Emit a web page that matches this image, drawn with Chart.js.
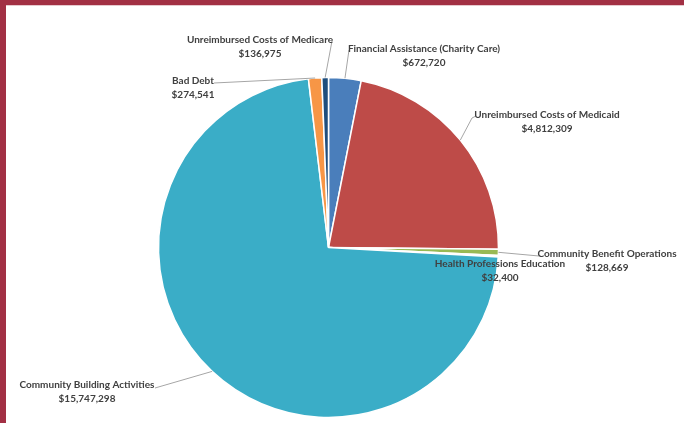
<!DOCTYPE html>
<html>
<head>
<meta charset="utf-8">
<script src="https://cdn.jsdelivr.net/npm/chart.js@4/dist/chart.umd.min.js"></script>
<style>
    body { margin:0; background:#ffffff; }
    canvas { display:block; }
</style>
</head>
<body>
<canvas id="canvasGraph" width="684" height="423"></canvas>
<script>
// Les données du graphique
var categories = [
    "Financial Assistance (Charity Care)",
    "Unreimbursed Costs of Medicaid",
    "Community Benefit Operations",
    "Health Professions Education",
    "Community Building Activities",
    "Bad Debt",
    "Unreimbursed Costs of Medicare"
];
var montants = [672720, 4812309, 128669, 32400, 15747298, 274541, 136975];
var couleurs = ['#4a7ebb', '#be4b48', '#98b954', '#7d60a0', '#3aadc7', '#f79646', '#1f4e7d'];

// Position des étiquettes (centre de la 1re ligne) et bout du trait de rappel
var posEtiquettes = [
    { x: 424, y: 49, trait: [[349, 50]] },
    { x: 547, y: 115, trait: [[472, 118], [476, 116]] },
    { x: 607, y: 254, trait: [[539, 256]] },
    { x: 500, y: 264, trait: null },
    { x: 87, y: 385, trait: [[155, 388]] },
    { x: 193, y: 81, trait: [[214, 83]] },
    { x: 260, y: 40, trait: [[332, 41]] }
];

function FormatDollar(v)
{
    return "$" + v.toLocaleString("en-US");
}

var pluginCadre = {
    id: 'cadre',
    afterDraw: function(chart)
    {
        var ctx = chart.ctx;
        var meta = chart.getDatasetMeta(0);
        ctx.save();

        // traits de rappel
        ctx.strokeStyle = '#a6a6a6';
        ctx.lineWidth = 1;
        for (var i = 0; i < meta.data.length; i++)
        {
            var p = posEtiquettes[i];
            if (!p.trait) continue;
            var arc = meta.data[i];
            var a = (arc.startAngle + arc.endAngle) / 2;
            ctx.beginPath();
            ctx.moveTo(arc.x + Math.cos(a) * arc.outerRadius, arc.y + Math.sin(a) * arc.outerRadius);
            for (var k = 0; k < p.trait.length; k++)
            {
                ctx.lineTo(p.trait[k][0], p.trait[k][1]);
            }
            ctx.stroke();
        }

        // étiquettes
        ctx.fillStyle = '#404040';
        ctx.font = 'bold 10px Lato';
        ctx.textAlign = 'center';
        ctx.textBaseline = 'middle';
        for (var j = 0; j < categories.length; j++)
        {
            var q = posEtiquettes[j];
            ctx.fillText(categories[j], q.x, q.y);
            ctx.fillText(FormatDollar(montants[j]), q.x, q.y + 13.5);
        }

        // cadre rouge en haut et à gauche
        ctx.fillStyle = '#a23044';
        ctx.fillRect(0, 0, chart.width, 5);
        ctx.fillRect(0, 0, 6, chart.height);
        ctx.fillStyle = '#e6c9ce';
        ctx.fillRect(6, 5, chart.width, 1);
        ctx.restore();
    }
};

var chartdata = {
    labels: categories,
    datasets: [
        {
            data: montants,
            backgroundColor: couleurs,
            borderColor: '#ffffff',
            borderWidth: 1.5,
            radius: 170
        }
    ]
};

var graph = new Chart(document.getElementById("canvasGraph"), {
    type: 'pie',
    data: chartdata,
    options: {
        responsive: false,
        animation: false,
        layout: { padding: { left: 0, right: 27, top: 72, bottom: 0 } },
        plugins: {
            legend: { display: false },
            tooltip: { enabled: false }
        }
    },
    plugins: [pluginCadre]
});
</script>
</body>
</html>
